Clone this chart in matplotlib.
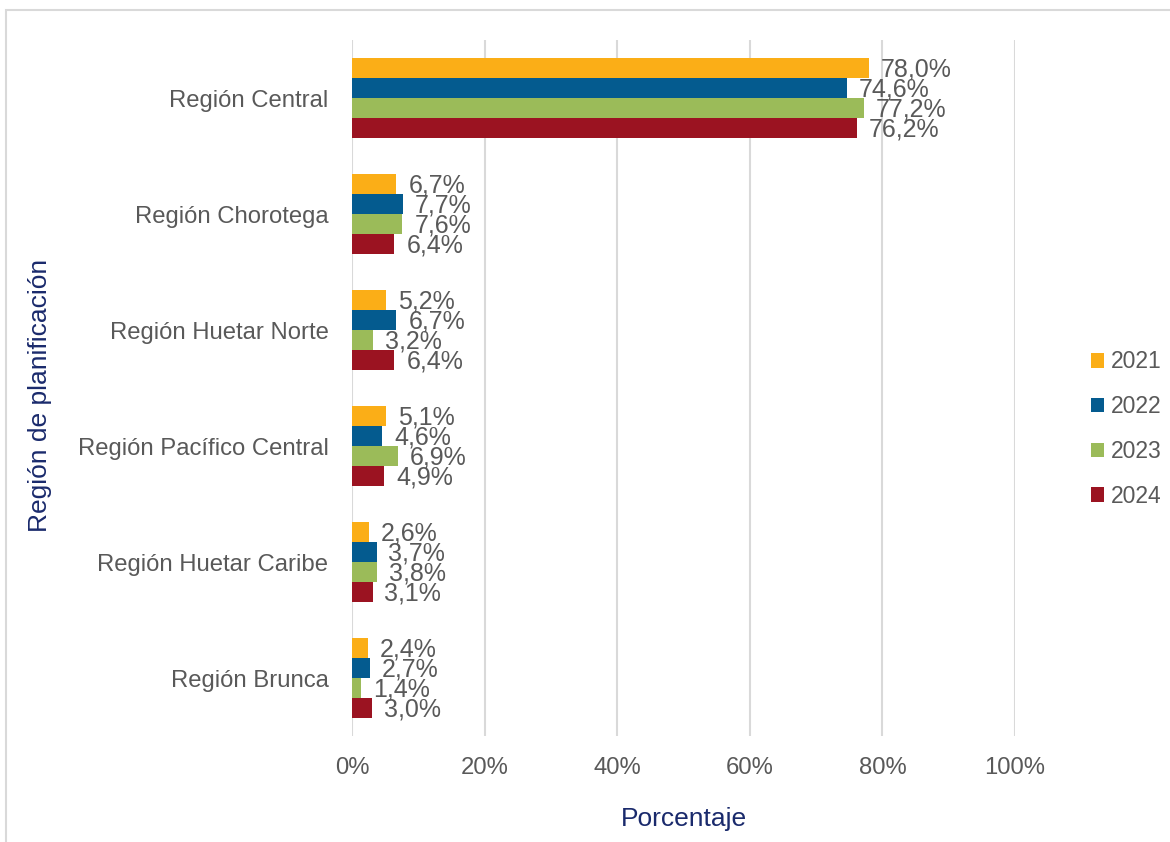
import matplotlib
matplotlib.use('Agg')
import matplotlib.pyplot as plt
import numpy as np
from matplotlib.patches import Rectangle

plt.rcParams['font.family'] = ['Liberation Sans', 'DejaVu Sans']

regions = ['Región Central', 'Región Chorotega', 'Región Huetar Norte',
           'Región Pacífico Central', 'Región Huetar Caribe', 'Región Brunca']
years = ['2021', '2022', '2023', '2024']
v2021 = [78.0, 6.7, 5.2, 5.1, 2.6, 2.4]
v2022 = [74.6, 7.7, 6.7, 4.6, 3.7, 2.7]
v2023 = [77.2, 7.6, 3.2, 6.9, 3.8, 1.4]
v2024 = [76.2, 6.4, 6.4, 4.9, 3.1, 3.0]
series = [v2021, v2022, v2023, v2024]
colors = ['#FBAE17', '#045B8F', '#9BBB59', '#9B1321']

grey = '#595959'
navy = '#1A2A6C'

fig = plt.figure(figsize=(11.7, 8.42), dpi=100)
ax = fig.add_axes([352 / 1170, 1 - 736 / 842, 663 / 1170, 696 / 842])

# light frame around the chart, cut off at right and bottom
fig.patches.append(Rectangle((6 / 1170, -0.1), 1.2, 1.1 - 10 / 842,
                             transform=fig.transFigure, fill=False,
                             edgecolor='#D9D9D9', linewidth=1.5))

y = np.arange(len(regions))
h = 0.172
for i, (vals, yr, c) in enumerate(zip(series, years, colors)):
    pos = y - 1.5 * h + i * h
    ax.barh(pos, np.array(vals) / 100, height=h, color=c, label=yr, zorder=3)
    for p, v in zip(pos, vals):
        ax.text(v / 100 + 0.018, p + 0.01, f'{v:.1f}%'.replace('.', ','),
                va='center', ha='left', fontsize=18, color=grey,
                clip_on=False, zorder=4)

ax.set_xlim(0, 1.0)
ax.set_ylim(len(regions) - 0.5, -0.5)
ax.set_xticks(np.arange(0, 1.01, 0.2))
ax.set_xticklabels([f'{int(t * 100)}%' for t in np.arange(0, 1.01, 0.2)])
ax.set_yticks(y)
ax.set_yticklabels(regions)
ax.tick_params(axis='both', length=0, labelsize=17.2, labelcolor=grey)
ax.tick_params(axis='x', pad=15)
ax.tick_params(axis='y', pad=17)
ax.grid(axis='x', color='#D9D9D9', linewidth=1.5, zorder=0)
for s in ax.spines.values():
    s.set_visible(False)

ax.set_xlabel('Porcentaje', fontsize=19, color=navy, labelpad=20)
fig.text(40 / 1170, 1 - 395 / 842, 'Región de planificación', rotation=90,
         fontsize=19, color=navy, ha='center', va='center')

leg = ax.legend(loc='center left', bbox_to_anchor=(1070 / 1170, 1 - 429 / 842),
                bbox_transform=fig.transFigure, frameon=False, fontsize=16.5,
                labelspacing=0.95, handlelength=0.6, handleheight=0.6,
                handletextpad=0.3, labelcolor=grey)

fig.savefig('out.png', dpi=100, facecolor='white')
